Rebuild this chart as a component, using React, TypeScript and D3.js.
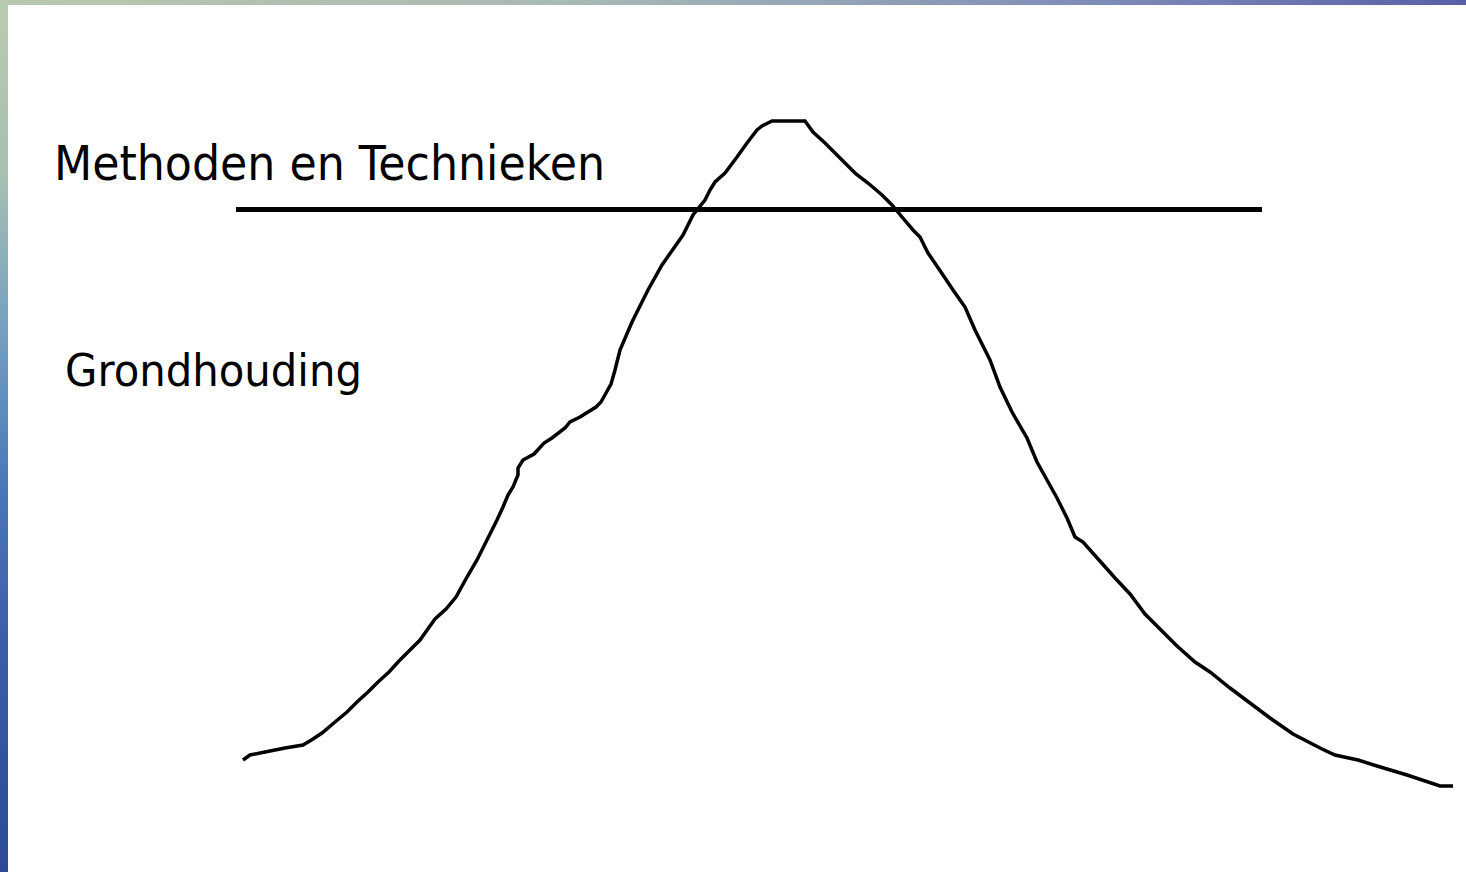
import React from 'react';
import * as d3 from 'd3';

// curve: position along the axis (0..1210) and level (0..666)
const curveX = [
    0, 7, 22, 42, 60, 70, 79, 92, 104, 114, 125, 135, 146, 156, 166, 177, 182, 192, 203, 213,
    224, 234, 244, 254, 260, 265, 270, 275, 275, 280, 291, 301, 309, 322, 327, 337, 353, 358, 363, 368,
    372, 377, 389, 405, 419, 433, 440, 450, 462, 467, 472, 482, 494, 504, 514, 519, 529, 562, 570, 582,
    597, 613, 625, 639, 649, 659, 670, 677, 685, 700, 710, 722, 732, 747, 757, 769, 784, 794, 804, 814,
    824, 832, 840, 856, 872, 887, 902, 919, 934, 952, 967, 987, 1007, 1027, 1050, 1079, 1092, 1115, 1134, 1164,
    1197, 1210,
];
const curveY = [
    27, 32, 35, 39, 42, 48, 54, 65, 75, 85, 95, 105, 115, 126, 136, 147, 154, 168, 178, 190,
    210, 227, 247, 267, 280, 292, 300, 312, 319, 327, 333, 344, 349, 359, 365, 370, 380, 385, 394, 403,
    417, 437, 465, 497, 522, 542, 552, 572, 587, 597, 605, 614, 630, 644, 657, 661, 666, 666, 655, 644,
    629, 613, 604, 592, 582, 570, 557, 550, 534, 512, 497, 480, 457, 427, 400, 375, 349, 325, 307, 289,
    269, 250, 245, 227, 209, 193, 173, 156, 141, 125, 115, 99, 84, 69, 53, 38, 32, 27, 21, 12,
    1, 1,
];

// horizontal divider
const thresholdLevel = 578;
const thresholdExtent = [-7, 1019];

const labels = ['Methoden en Technieken', 'Grondhouding'];

const width = 1466;
const height = 872;

export default function App() {
    const x = d3.scaleLinear().domain([0, 1210]).range([243, 1453]);
    const y = d3.scaleLinear().domain([0, 666]).range([787, 121]);

    const points: [number, number][] = curveX.map((d, i) => [d, curveY[i]]);
    const line = d3
        .line<[number, number]>()
        .x(d => x(d[0]))
        .y(d => y(d[1]))
        .curve(d3.curveLinear);

    return (
        <svg
            width={width}
            height={height}
            style={{ position: 'absolute', left: 0, top: 0, display: 'block' }}
        >
            <defs>
                <linearGradient id="leftStrip" x1="0" y1="0" x2="0" y2="1">
                    <stop offset="0" stopColor="#b9cbae" />
                    <stop offset="0.2" stopColor="#a7c0b2" />
                    <stop offset="0.4" stopColor="#6f9cc0" />
                    <stop offset="0.55" stopColor="#4d78b8" />
                    <stop offset="0.75" stopColor="#3a5ca8" />
                    <stop offset="1" stopColor="#2c4a98" />
                </linearGradient>
                <linearGradient id="topStrip" x1="0" y1="0" x2="1" y2="0">
                    <stop offset="0" stopColor="#b9c9ae" />
                    <stop offset="0.4" stopColor="#a8b8b4" />
                    <stop offset="0.75" stopColor="#7e8cb8" />
                    <stop offset="1" stopColor="#5a5fa8" />
                </linearGradient>
            </defs>
            <rect x={0} y={0} width={width} height={height} fill="#ffffff" />
            <rect x={0} y={0} width={8} height={height} fill="url(#leftStrip)" />
            <rect x={0} y={0} width={width} height={5} fill="url(#topStrip)" />

            <line
                x1={x(thresholdExtent[0])}
                x2={x(thresholdExtent[1])}
                y1={y(thresholdLevel)}
                y2={y(thresholdLevel)}
                stroke="#000"
                strokeWidth={5}
                shapeRendering="crispEdges"
            />
            <path d={line(points) || ''} fill="none" stroke="#000" strokeWidth={3.5} strokeLinejoin="miter" />

            <text
                x={54}
                y={180}
                fontFamily="DejaVu Sans"
                fontSize={48}
                textLength={551}
                lengthAdjust="spacingAndGlyphs"
                fill="#000"
            >
                {labels[0]}
            </text>
            <text
                x={65}
                y={386}
                fontFamily="DejaVu Sans"
                fontSize={45}
                textLength={297}
                lengthAdjust="spacingAndGlyphs"
                fill="#000"
            >
                {labels[1]}
            </text>
        </svg>
    );
}
